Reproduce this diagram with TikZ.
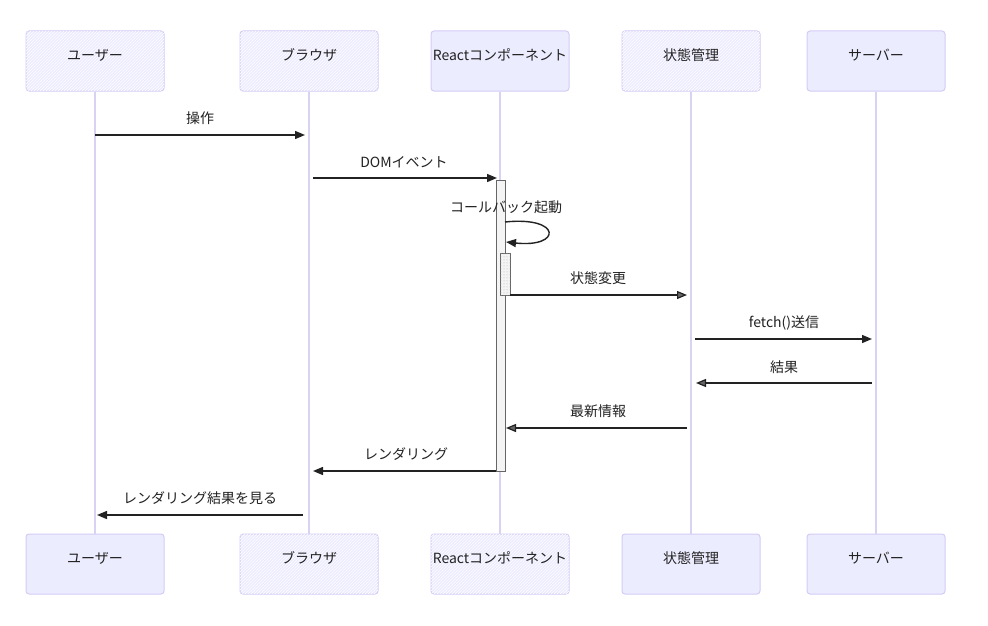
\documentclass[tikz,border=0pt]{standalone}
\usepackage{fontspec}
\setmainfont{Noto Sans CJK JP}
\usetikzlibrary{arrows.meta,patterns}
\definecolor{actfill}{HTML}{ECECFF}
\definecolor{actdraw}{HTML}{D4CCF5}
\definecolor{lifeline}{HTML}{D9D2F2}
\definecolor{ink}{HTML}{222222}
\definecolor{headalt}{HTML}{666666}
\definecolor{actvfill}{HTML}{F4F4F4}
\definecolor{actvdraw}{HTML}{666666}
\tikzset{
  actor/.style={draw=actdraw, line width=1pt, fill=actfill, rounded corners=3pt,
    minimum width=138pt, minimum height=60pt, inner sep=0pt, text=ink,
    text height=11pt, text depth=13pt,
    font=\fontsize{14}{16}\selectfont},
  hatched/.style={postaction={pattern=north east lines, pattern color=white}},
  life/.style={draw=lifeline, line width=1.6pt},
  msg/.style={draw=ink, line width=1.4pt, -{Triangle[length=10pt,width=8pt]}},
  msgalt/.style={draw=ink, line width=1.2pt, -{Triangle[length=10pt,width=8pt,fill=headalt]}},
  msglabel/.style={text=ink, font=\fontsize{14}{16}\selectfont, inner sep=0pt},
  activation/.style={draw=actvdraw, fill=actvfill, line width=1pt},
}
\begin{document}
\begin{tikzpicture}[x=1pt,y=-1pt]
\useasboundingbox[fill=white] (0,0) rectangle (988,626);
% top actors
\node[actor,hatched] (u1) at (95,61) {ユーザー};
\node[actor,hatched] (b1) at (309,61) {ブラウザ};
\node[actor] (r1) at (500,61) {Reactコンポーネント};
\node[actor,hatched] (s1) at (691,61) {状態管理};
\node[actor] (v1) at (876,61) {サーバー};
% bottom actors
\node[actor] (u2) at (95,564) {ユーザー};
\node[actor,hatched] (b2) at (309,564) {ブラウザ};
\node[actor,hatched] (r2) at (500,564) {Reactコンポーネント};
\node[actor] (s2) at (691,564) {状態管理};
\node[actor] (v2) at (876,564) {サーバー};
% lifelines
\draw[life] (u1.south) -- (u2.north);
\draw[life] (b1.south) -- (b2.north);
\draw[life] (r1.south) -- (r2.north);
\draw[life] (s1.south) -- (s2.north);
\draw[life] (v1.south) -- (v2.north);
% activations
\draw[activation] (496,180) rectangle (505,471);
\draw[activation, postaction={pattern=dots, pattern color=gray!60}] (500,253) rectangle (510,295);
% coordinates
\coordinate (m1s) at (95,135);  \coordinate (m1e) at (305,135);
\coordinate (m2s) at (313,178); \coordinate (m2e) at (497,178);
\coordinate (m3s) at (505,222); \coordinate (m3e) at (506,242);
\coordinate (m4s) at (510,295); \coordinate (m4e) at (687,295);
\coordinate (m5s) at (695,339); \coordinate (m5e) at (872,339);
\coordinate (m6s) at (872,383); \coordinate (m6e) at (696,383);
\coordinate (m7s) at (687,428); \coordinate (m7e) at (506,428);
\coordinate (m8s) at (496,471); \coordinate (m8e) at (313,471);
\coordinate (m9s) at (303,515); \coordinate (m9e) at (97,515);
% messages
\draw[msg] (m1s) -- (m1e);
\node[msglabel] (l1) at (200,118) {操作};
\draw[msg] (m2s) -- (m2e);
\node[msglabel] (l2) at (404,162) {DOMイベント};
\draw[msg] (m3s) .. controls (562,216) and (562,248) .. (m3e);
\node[msglabel] (l3) at (506,207) {コールバック起動};
\draw[msgalt] (m4s) -- (m4e);
\node[msglabel] (l4) at (598,278) {状態変更};
\draw[msg] (m5s) -- (m5e);
\node[msglabel] (l5) at (784,323) {fetch()送信};
\draw[msgalt] (m6s) -- (m6e);
\node[msglabel] (l6) at (784,367) {結果};
\draw[msgalt] (m7s) -- (m7e);
\node[msglabel] (l7) at (598,411) {最新情報};
\draw[msg] (m8s) -- (m8e);
\node[msglabel] (l8) at (406,454) {レンダリング};
\draw[msg] (m9s) -- (m9e);
\node[msglabel] (l9) at (200,498) {レンダリング結果を見る};
\end{tikzpicture}
\end{document}
